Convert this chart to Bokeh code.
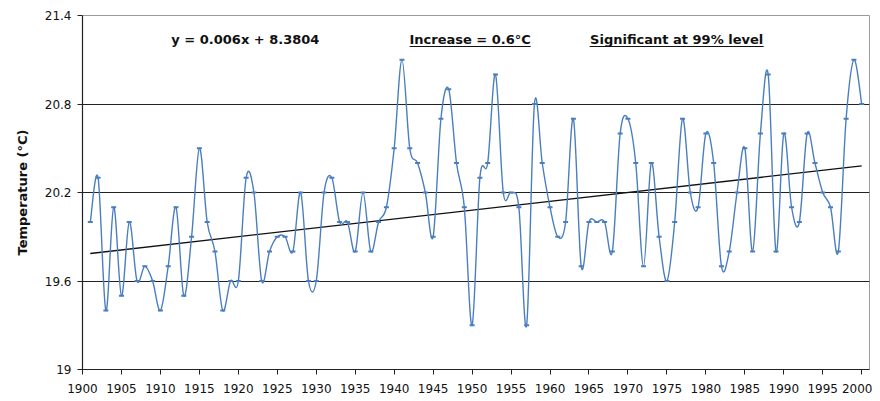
from bokeh.plotting import figure
from bokeh.models import FixedTicker, Label, Range1d
from bokeh.embed import file_html
from bokeh.resources import INLINE

# ---- data ----
years = list(range(1901, 2001))
temperature = [
    20.0, 20.3, 19.4, 20.1, 19.5, 20.0, 19.6, 19.7, 19.6, 19.4,   # 1901-1910
    19.7, 20.1, 19.5, 19.9, 20.5, 20.0, 19.8, 19.4, 19.6, 19.6,   # 1911-1920
    20.3, 20.2, 19.6, 19.8, 19.9, 19.9, 19.8, 20.2, 19.6, 19.6,   # 1921-1930
    20.2, 20.3, 20.0, 20.0, 19.8, 20.2, 19.8, 20.0, 20.1, 20.5,   # 1931-1940
    21.1, 20.5, 20.4, 20.2, 19.9, 20.7, 20.9, 20.4, 20.1, 19.3,   # 1941-1950
    20.3, 20.4, 21.0, 20.2, 20.2, 20.1, 19.3, 20.8, 20.4, 20.1,   # 1951-1960
    19.9, 20.0, 20.7, 19.7, 20.0, 20.0, 20.0, 19.8, 20.6, 20.7,   # 1961-1970
    20.4, 19.7, 20.4, 19.9, 19.6, 20.0, 20.7, 20.2, 20.1, 20.6,   # 1971-1980
    20.4, 19.7, 19.8, 20.2, 20.5, 19.8, 20.6, 21.0, 19.8, 20.6,   # 1981-1990
    20.1, 20.0, 20.6, 20.4, 20.2, 20.1, 19.8, 20.7, 21.1, 20.8,   # 1991-2000
]
trend_slope = 0.006
trend_intercept = 8.3804
x_ticks = list(range(1900, 2001, 5))
y_ticks = [19.0, 19.6, 20.2, 20.8, 21.4]
y_tick_labels = ["19", "19.6", "20.2", "20.8", "21.4"]
equation_text = "y = 0.006x + 8.3804"
increase_text = "Increase = 0.6\u00b0C"
signif_text = "Significant at 99% level"
y_title = "Temperature (\u00b0C)"

# ---- style ----
BLUE = "#4a7ebf"
FONT = "DejaVu Sans"
PX_PER_YEAR = 7.79

p = figure(width=872, height=400, output_backend="svg", toolbar_location=None,
           x_range=Range1d(1900, 2001), y_range=Range1d(19.0, 21.4),
           min_border_left=82, min_border_right=3, min_border_top=15, min_border_bottom=31)
p.background_fill_color = "white"
p.border_fill_color = "white"
p.outline_line_color = "#9a9a9a"
p.outline_line_width = 1

# axes
p.xaxis.ticker = FixedTicker(ticks=x_ticks)
p.yaxis.ticker = FixedTicker(ticks=y_ticks)
p.yaxis.major_label_overrides = {t: l for t, l in zip(y_ticks, y_tick_labels)}
for ax in (p.xaxis[0], p.yaxis[0]):
    ax.axis_line_color = "#222222"
    ax.axis_line_width = 1.2
    ax.major_tick_line_color = "#222222"
    ax.major_tick_in = 0
    ax.major_tick_out = 5
    ax.minor_tick_line_color = None
    ax.major_label_text_font = FONT
    ax.major_label_text_font_size = "12px"
    ax.major_label_text_color = "#111111"
p.yaxis.major_label_standoff = 6
p.xaxis.major_label_standoff = 9
p.yaxis.axis_label = y_title
p.yaxis.axis_label_text_font = FONT
p.yaxis.axis_label_text_font_style = "bold"
p.yaxis.axis_label_text_font_size = "13px"
p.yaxis.axis_label_text_color = "#111111"
p.yaxis.axis_label_standoff = 12

p.xgrid.grid_line_color = None
p.ygrid.ticker = FixedTicker(ticks=y_ticks[1:-1])
p.ygrid.grid_line_color = "#222222"
p.ygrid.grid_line_width = 1.2

# trend line from equation
tx = [years[0], years[-1]]
ty = [trend_slope * x + trend_intercept for x in tx]
p.line(tx, ty, line_color="#111111", line_width=1.3)

# smoothed series via Bezier segments (Catmull-Rom style control points)
n = len(years)
x0s, y0s, x1s, y1s, cx0s, cy0s, cx1s, cy1s = [], [], [], [], [], [], [], []
for i in range(n - 1):
    a = max(i - 1, 0)
    d = min(i + 2, n - 1)
    x0s.append(years[i]); y0s.append(temperature[i])
    x1s.append(years[i + 1]); y1s.append(temperature[i + 1])
    cx0s.append(years[i] + (years[i + 1] - years[a]) / 6.0)
    cy0s.append(temperature[i] + (temperature[i + 1] - temperature[a]) / 6.0)
    cx1s.append(years[i + 1] - (years[d] - years[i]) / 6.0)
    cy1s.append(temperature[i + 1] - (temperature[d] - temperature[i]) / 6.0)
p.bezier(x0=x0s, y0=y0s, x1=x1s, y1=y1s, cx0=cx0s, cy0=cy0s, cx1=cx1s, cy1=cy1s,
         line_color=BLUE, line_width=1.4)
p.scatter(years, temperature, marker="dash", size=5, line_color=BLUE, line_width=2)

# header texts
header_y = 21.234
underline_y = 21.190
headers = [
    (equation_text, 1920.9, False, 134),
    (increase_text, 1949.75, True, 121),
    (signif_text, 1976.25, True, 174),
]
for txt, cx, underline, wpx in headers:
    p.add_layout(Label(x=cx, y=header_y, text=txt, text_font=FONT, text_font_style="bold",
                       text_font_size="13px", text_align="center", text_baseline="middle",
                       text_color="#111111"))
    if underline:
        half = wpx / 2.0 / PX_PER_YEAR
        p.segment(x0=[cx - half], y0=[underline_y], x1=[cx + half], y1=[underline_y],
                  line_color="#111111", line_width=1.2)

open("out.html", "w").write(file_html(p, INLINE))
